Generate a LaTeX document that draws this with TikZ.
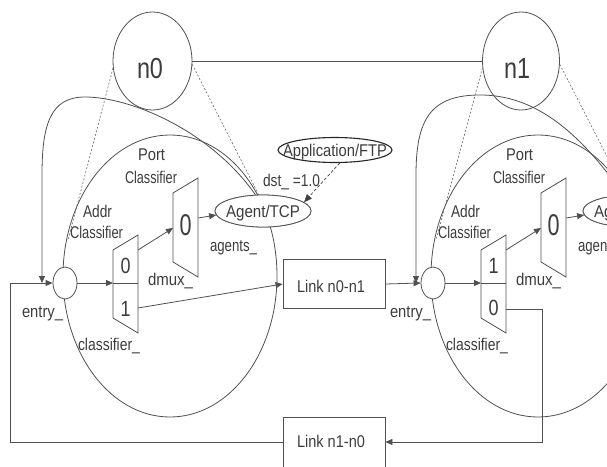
\documentclass[tikz,border=0pt]{standalone}
\usepackage{fontspec}
\setmainfont{Liberation Sans}
\usetikzlibrary{arrows.meta,shapes.geometric}
\definecolor{lc}{HTML}{505050}
\definecolor{tc}{HTML}{3C3C3C}
\definecolor{dc}{HTML}{6A6A6A}
\newcommand{\fw}[2]{\resizebox{#1pt}{\height}{#2}}
\begin{document}
\begin{tikzpicture}[x=1pt,y=-1pt,
  ln/.style={draw=lc, line width=0.8pt},
  arr/.style={ln, -{Triangle[length=7pt,width=6pt]}},
  dotl/.style={draw=dc, line width=0.6pt, dash pattern=on 2pt off 1.8pt},
  dasharr/.style={draw=black!75, line width=0.7pt, dash pattern=on 3pt off 2pt, -{Triangle[length=8pt,width=6.5pt]}},
  txt/.style={inner sep=0pt, anchor=base, text=tc, font=\fontsize{17}{19}\selectfont},
  dig/.style={txt, font=\fontsize{22}{24}\selectfont},
  bigdig/.style={txt, font=\fontsize{30}{32}\selectfont},
  nodetxt/.style={txt, font=\fontsize{29}{31}\selectfont},
  ell/.style={ellipse, ln, inner sep=0pt},
  trap/.style={ln, fill=white}]
\useasboundingbox (0,0) rectangle (607,466);
\clip (0,0) rectangle (607,466);

% ---------------- top-level nodes
\node[ell, minimum width=79pt, minimum height=98pt] (n0) at (152.5,61) {};
\node[ell, minimum width=77pt, minimum height=98pt] (n1) at (521,61) {};
\draw[ln] (n0.east) -- (n1.west);

% ---------------- big ellipses
\node[ell, minimum width=214pt, minimum height=282pt] (bigA) at (170,276) {};
\node[ell, minimum width=214pt, minimum height=282pt] (bigB) at (538,276) {};

% ---------------- agents (named first, drawn over later)
\node[ell, fill=white, minimum width=96pt, minimum height=32pt] (agentA) at (263,211) {};
\node[ell, fill=white, minimum width=96pt, minimum height=32pt] (agentB) at (631,211) {};

% ---------------- loop curves
\coordinate (jA) at (42,283);
\coordinate (jB) at (416,283);
\draw[arr] (agentA.115) .. controls (210,130) and (130,97) .. (85,97)
  .. controls (50,97) and (42,125) .. (42,175) -- (jA);
\draw[arr] (agentB.115) .. controls (575,125) and (530,95) .. (480,95)
  .. controls (430,95) and (416,120) .. (416,175) -- (jB);

% ---------------- dotted lines
\coordinate (dA) at (68,240);
\coordinate (dB) at (436,240);
\draw[dotl] (n0.190) -- (dA);
\draw[dotl] (n0.-5) -- (agentA.105);
\draw[dotl] (n1.190) -- (dB);
\draw[dotl] (n1.-5) -- (agentB.105);

% redraw agents on top
\node[ell, fill=white, minimum width=96pt, minimum height=32pt] at (agentA) {};
\node[ell, fill=white, minimum width=96pt, minimum height=32pt] at (agentB) {};

% ---------------- entries
\node[ell, fill=white, minimum width=24pt, minimum height=32pt] (entA) at (65,283) {};
\node[ell, fill=white, minimum width=24pt, minimum height=32pt] (entB) at (433,283) {};

% ---------------- classifiers
\draw[trap] (113,250) -- (138,235) -- (138,333) -- (113,318) -- cycle;
\draw[ln] (113,283) -- (138,283);
\coordinate (clsAin) at (113,283);
\coordinate (clsAo0) at (138,250);
\coordinate (clsAo1) at (138,308);
\draw[trap] (481,250) -- (506,235) -- (506,333) -- (481,318) -- cycle;
\draw[ln] (481,283) -- (506,283);
\coordinate (clsBin) at (481,283);
\coordinate (clsBo1) at (506,250);
\coordinate (clsBo0) at (506,309);

% ---------------- dmux
\draw[trap] (173,193) -- (198,178) -- (198,277) -- (173,262) -- cycle;
\coordinate (dmAin) at (173,228);
\coordinate (dmAo) at (198,218);
\draw[trap] (541,193) -- (566,178) -- (566,277) -- (541,262) -- cycle;
\coordinate (dmBin) at (541,228);
\coordinate (dmBo) at (566,218);

% ---------------- links
\node[rectangle, ln, minimum width=102pt, minimum height=49pt] (lnkA) at (334,284) {};
\node[rectangle, ln, minimum width=102pt, minimum height=50pt] (lnkB) at (334,442) {};

% ---------------- application
\node[ell, draw=black!85, line width=1.1pt, fill=white, minimum width=114pt, minimum height=25pt] (app) at (335,150) {};

% ---------------- connectors
\draw[arr] (entA.east) -- (clsAin);
\draw[arr] (clsAo0) -- (dmAin);
\draw[arr] (dmAo) -- (agentA.185);
\draw[arr] (clsAo1) -- (lnkA.west);
\draw[arr] (lnkA.east) -- (entB.west);
\draw[arr] (entB.east) -- (clsBin);
\draw[arr] (clsBo1) -- (dmBin);
\draw[arr] (dmBo) -- (agentB.185);
\draw[arr] (clsBo0) -- (542,309) -- (542,442) -- (lnkB.east);
\draw[arr] (lnkB.west) -- (10,442) -- (10,283) -- (entA.west);
\draw[dasharr] (app.-70) -- (agentA.12);

% ---------------- texts
\node[nodetxt] (tn0) at (150,78) {\fw{26}{n0}};
\node[nodetxt] (tn1) at (517,78) {\fw{26}{n1}};

\node[txt] (tPortA) at (151.5,160) {\fw{27}{Port}};
\node[txt] (tPcA) at (151,183) {\fw{52}{Classifier}};
\node[txt] (tAddrA) at (97.5,217) {\fw{29}{Addr}};
\node[txt] (tAcA) at (96.5,238) {\fw{53}{Classifier}};
\node[txt] (tAgA) at (263,217) {\fw{74}{Agent/TCP}};
\node[txt] (tagsA) at (233.5,251) {\fw{47}{agents\_}};
\node[txt] (tdmA) at (170.5,285) {\fw{45}{dmux\_}};
\node[txt] (tclA) at (109,350) {\fw{62}{classifier\_}};
\node[txt] (tenA) at (42.5,317) {\fw{41}{entry\_}};
\node[dig] (dA0) at (125.5,273) {\fw{10}{0}};
\node[dig] (dA1) at (125.5,316) {\fw{10}{1}};
\node[bigdig] (dmA0) at (185.5,235) {\fw{12}{0}};

\node[txt] (tPortB) at (519.5,160) {\fw{27}{Port}};
\node[txt] (tPcB) at (519,183) {\fw{52}{Classifier}};
\node[txt] (tAddrB) at (465.5,217) {\fw{29}{Addr}};
\node[txt] (tAcB) at (464.5,238) {\fw{53}{Classifier}};
\node[txt] (tAgB) at (631,217) {\fw{74}{Agent/TCP}};
\node[txt] (tagsB) at (601.5,251) {\fw{47}{agents\_}};
\node[txt] (tdmB) at (538.5,285) {\fw{45}{dmux\_}};
\node[txt] (tclB) at (477,350) {\fw{62}{classifier\_}};
\node[txt] (tenB) at (410.5,317) {\fw{41}{entry\_}};
\node[dig] (dB1) at (493.5,273) {\fw{10}{1}};
\node[dig] (dB0) at (493.5,315) {\fw{10}{0}};
\node[bigdig] (dmB0) at (553.5,235) {\fw{12}{0}};

\node[txt] (tlA) at (331,292) {\fw{68}{Link n0-n1}};
\node[txt] (tlB) at (331,447) {\fw{68}{Link n1-n0}};
\node[txt] (tapp) at (335,156) {\fw{104}{Application/FTP}};
\node[txt] (tdst) at (291.5,186) {\fw{57}{dst\_ =1.0}};
\end{tikzpicture}
\end{document}
